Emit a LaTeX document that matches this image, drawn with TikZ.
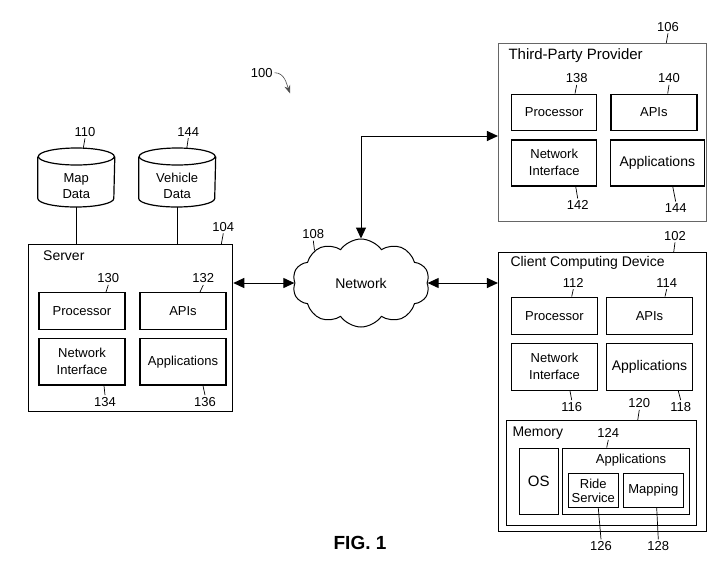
\documentclass[tikz,border=0pt]{standalone}
\usepackage{fontspec}
\setmainfont{Liberation Sans}
\usetikzlibrary{arrows.meta,shapes.symbols}

\begin{document}
\begin{tikzpicture}
    [x=1pt,y=-1pt,inner sep=0pt,line width=1pt,
     both/.style={{Triangle[length=11pt,width=10pt]}-{Triangle[length=11pt,width=10pt]}},
     font=\fontsize{13}{17}\selectfont,
     frame/.style={draw,line width=1.1pt},
     box/.style={draw,line width=1.4pt,align=center},
     title/.style={anchor=west,font=\fontsize{14}{16}\selectfont},
     num/.style={inner sep=1.5pt},
     lead/.style={line width=0.7pt},
     db/.style={minimum width=76,minimum height=58},
     dbline/.style={line width=1.2pt},
     dbtext/.style={align=center,font=\fontsize{13}{16}\selectfont}]

    \useasboundingbox (0,0) rectangle (725,571);

    % figure reference:
    \node (l100) at (261.7,72.7) [num] {100};
    \coordinate (fig) at (290,93.3);
    \draw [-{Stealth[length=8pt,width=6pt]},line width=0.6pt,black!70] (l100.east) to [out=0,in=110] (fig);

    % databases:
    \node (mapdata) at (76.3,177.5) [db] {};
    \node (mapdatat) at (76.3,186) [dbtext] {Map\\Data};
    \node (vehdata) at (177.2,177.5) [db] {};
    \node (vehdatat) at (177.2,186) [dbtext] {Vehicle\\Data};

    \draw [dbline] ([yshift=-8.5pt]mapdata.north) ellipse [x radius=38pt,y radius=8.5pt];
    \draw [dbline] ([yshift=-8.5pt]mapdata.north west) -- ([yshift=8.5pt]mapdata.south west)
        arc [start angle=180,end angle=360,x radius=38pt,y radius=8.5pt]
        -- ([yshift=-8.5pt]mapdata.north east);
    \draw [dbline] ([yshift=-8.5pt]vehdata.north) ellipse [x radius=38pt,y radius=8.5pt];
    \draw [dbline] ([yshift=-8.5pt]vehdata.north west) -- ([yshift=8.5pt]vehdata.south west)
        arc [start angle=180,end angle=360,x radius=38pt,y radius=8.5pt]
        -- ([yshift=-8.5pt]vehdata.north east);

    % server:
    \node (server) at (130.7,328.3) [frame,minimum width=204,minimum height=167] {};
    \node (servert) at (42.7,255.7) [title] {Server};
    \node (sproc) at (82,311) [box,minimum width=86,minimum height=36.5] {Processor};
    \node (sapi) at (183,311) [box,minimum width=86,minimum height=36.5] {APIs};
    \node (snet) at (82,361.7) [box,minimum width=86,minimum height=46.7] {Network\\Interface};
    \node (sapp) at (183,361.7) [box,minimum width=86,minimum height=46.7] {Applications};

    % third-party provider:
    \node (tpp) at (602.5,132.5) [frame,draw=black!60,minimum width=208,minimum height=178] {};
    \node (tppt) at (508,56) [title,font=\fontsize{15}{17}\selectfont] {Third-Party Provider};
    \node (tproc) at (554.2,112.2) [box,minimum width=85,minimum height=36] {Processor};
    \node (tapi) at (653.8,112.2) [box,minimum width=86,minimum height=36] {APIs};
    \node (tnet) at (554.2,162.8) [box,minimum width=85,minimum height=46] {Network\\Interface};
    \node (tapp) at (657.3,162.8) [box,minimum width=94,minimum height=46,font=\fontsize{14}{16}\selectfont] {Applications};

    % client computing device:
    \node (client) at (602.5,392.2) [frame,minimum width=208,minimum height=279] {};
    \node (clientt) at (510,262.7) [title] {Client Computing Device};
    \node (cproc) at (554.5,315.7) [box,minimum width=86,minimum height=37] {Processor};
    \node (capi) at (649.5,315.7) [box,minimum width=86,minimum height=37] {APIs};
    \node (cnet) at (554.5,366.7) [box,minimum width=86,minimum height=47] {Network\\Interface};
    \node (capp) at (649.5,366.7) [box,minimum width=86,minimum height=47,font=\fontsize{14}{16}\selectfont] {Applications};

    % memory:
    \node (memory) at (601.7,473.3) [box,line width=1.2pt,minimum width=190,minimum height=105] {};
    \node (memoryt) at (512,432.7) [title] {Memory};
    \node (os) at (538.8,481.2) [box,minimum width=39,minimum height=66,font=\fontsize{15}{17}\selectfont] {OS};
    \node (mapps) at (626,481.2) [box,minimum width=126.6,minimum height=66] {};
    \node (mappst) at (631,460) {Applications};
    \node (ride) at (593.3,490.5) [box,minimum width=50,minimum height=34,font=\fontsize{13}{14}\selectfont] {Ride\\Service};
    \node (mapping) at (653.3,490.5) [box,minimum width=60,minimum height=34] {Mapping};

    % network:
    \node (net) at (361,283) [cloud,cloud puffs=10,cloud puff arc=110,aspect=1.6,draw,line width=1pt,
        minimum width=137,minimum height=88,font=\fontsize{14}{16}\selectfont] {Network};

    % connect nodes:
    \draw (mapdata.south) -- (mapdata.south |- server.north);
    \draw (vehdata.south) -- (vehdata.south |- server.north);
    \draw [both] (server.east |- net.west) -- (net.west);
    \draw [both] (net.east) -- (client.west |- net.east);
    \draw [both] (net.north) |- ([yshift=-3.5pt]tpp.west);

    % reference numbers above:
    \node (l110) at (85,131.7) [num] {110};
    \node (l144v) at (188.3,131.7) [num] {144};
    \node (l104) at (223.3,226.7) [num] {104};
    \node (l130) at (108.3,278.3) [num] {130};
    \node (l132) at (203.3,278.3) [num] {132};
    \node (l106) at (668,26.7) [num] {106};
    \node (l138) at (576.7,78.3) [num] {138};
    \node (l140) at (669,78.3) [num] {140};
    \node (l108) at (313.3,234) [num] {108};
    \node (l102) at (675,235.7) [num] {102};
    \node (l112) at (573.3,282.7) [num] {112};
    \node (l114) at (666.7,282.7) [num] {114};
    \node (l120) at (639.3,403.3) [num] {120};
    \node (l124) at (608.3,433.3) [num] {124};

    \draw [lead] (l110.south) -- ([xshift=-1.7pt]l110.south |- mapdata.north);
    \draw [lead] (l144v.south) -- ([xshift=-1.6pt,yshift=-0.8pt]l144v.south |- vehdata.north);
    \draw [lead] (l104.south) -- ([xshift=-2pt]l104.south |- server.north);
    \draw [lead] (l130.south) -- ([xshift=-2.3pt]l130.south |- sproc.north);
    \draw [lead] (l132.south) -- ([xshift=-3.3pt]l132.south |- sapi.north);
    \draw [lead] (l106.south) -- ([xshift=-1.7pt]l106.south |- tpp.north);
    \draw [lead] (l138.south) -- ([xshift=-1.7pt]l138.south |- tproc.north);
    \draw [lead] (l140.south) -- ([xshift=-1.3pt]l140.south |- tapi.north);
    \draw [lead] (l108.south) -- (net.145);
    \draw [lead] (l102.south) -- ([xshift=-1.3pt]l102.south |- client.north);
    \draw [lead] (l112.south) -- ([xshift=-1.6pt]l112.south |- cproc.north);
    \draw [lead] (l114.south) -- ([xshift=-1.7pt]l114.south |- capi.north);
    \draw [lead] (l120.south) -- ([xshift=-1.6pt]l120.south |- memory.north);
    \draw [lead] (l124.south) -- ([xshift=-1.6pt]l124.south |- mapps.north);

    % reference numbers below:
    \node (l134) at (105,401.7) [num] {134};
    \node (l136) at (205,401.7) [num] {136};
    \node (l142) at (577.7,205) [num] {142};
    \node (l144t) at (675.7,208) [num] {144};
    \node (l116) at (571.7,406.7) [num] {116};
    \node (l118) at (680.7,406.7) [num] {118};
    \node (l126) at (601,546) [num] {126};
    \node (l128) at (658.3,546) [num] {128};

    \draw [lead] ([xshift=-1pt]l134.north |- snet.south) -- (l134.north);
    \draw [lead] ([xshift=-2pt]l136.north |- sapp.south) -- (l136.north);
    \draw [lead] ([xshift=-2pt]l142.north |- tnet.south) -- (l142.north);
    \draw [lead] ([xshift=-3pt]l144t.north |- tapp.south) -- (l144t.north);
    \draw [lead] ([xshift=-1.7pt]l116.north |- cnet.south) -- (l116.north);
    \draw [lead] ([xshift=-2.4pt]l118.north |- capp.south) -- (l118.north);
    \draw [lead] ([xshift=-2.7pt]l126.north |- ride.south) -- (l126.north);
    \draw [lead] ([xshift=-1.6pt]l128.north |- mapping.south) -- (l128.north);

    % caption:
    \node (figlabel) at (360,542.7) [font=\bfseries\fontsize{19}{21}\selectfont] {FIG. 1};

\end{tikzpicture}
\end{document}
